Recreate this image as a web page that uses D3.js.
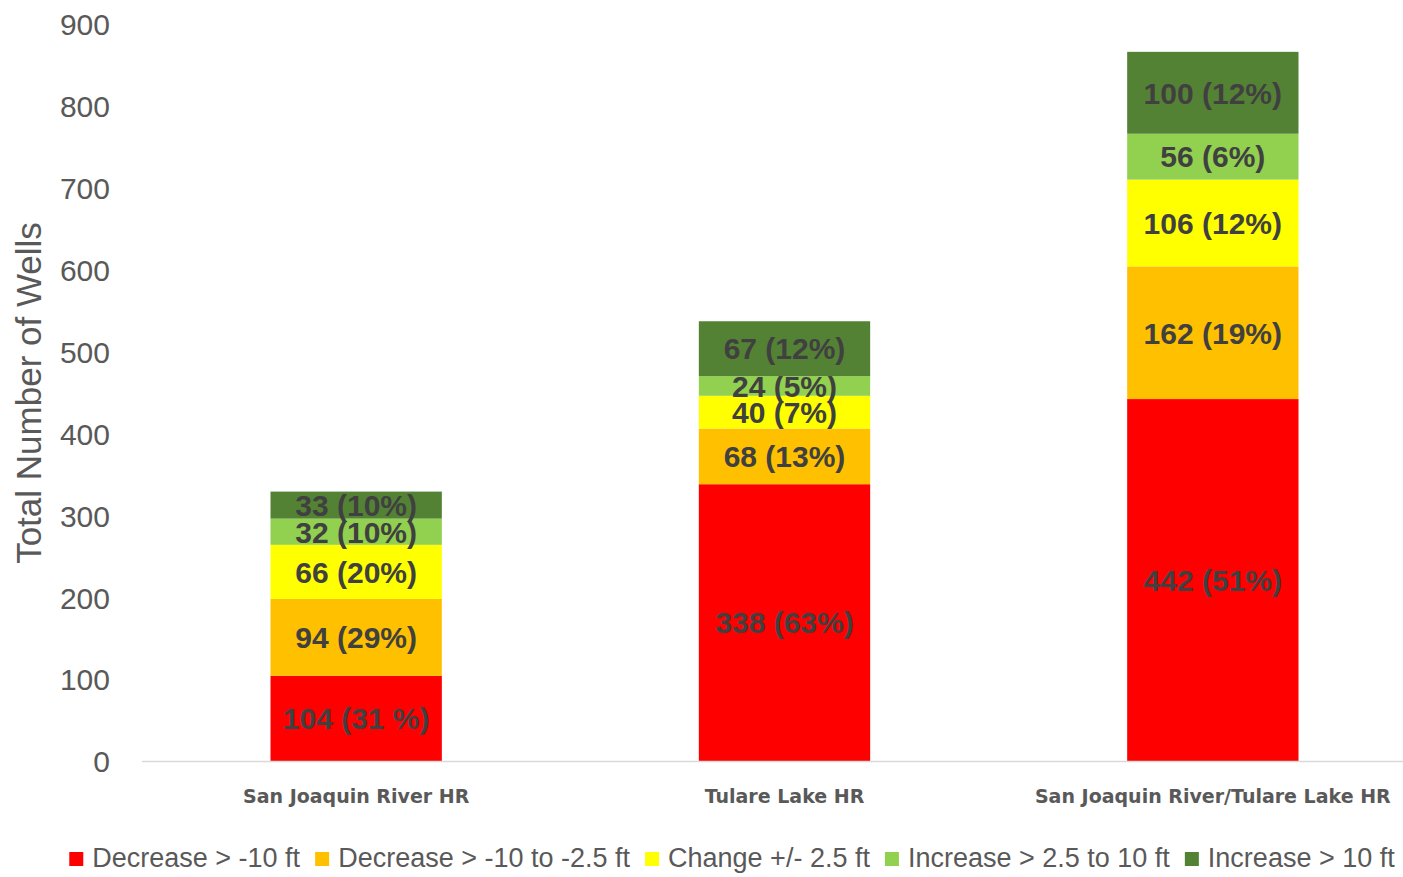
<!DOCTYPE html>
<html>
<head>
<meta charset="UTF-8">
<script src="https://d3js.org/d3.v7.min.js"></script>
<style>
  body { margin: 0; background: #fff; }
  svg text { font-family: "Liberation Sans", Arial, sans-serif; }
</style>
</head>
<body>
<div id="chart"></div>
<script>
// data
var regions = ["San Joaquin River HR", "Tulare Lake HR", "San Joaquin River/Tulare Lake HR"];
var classes = ["Decrease > -10 ft", "Decrease > -10 to -2.5 ft", "Change +/- 2.5 ft", "Increase > 2.5 to 10 ft", "Increase > 10 ft"];
var colors = ["#FF0000", "#FFC000", "#FFFF00", "#92D050", "#548235"];
// counts per class, one value per region
var decBig   = [104, 338, 442];
var decSmall = [94, 68, 162];
var noChange = [66, 40, 106];
var incSmall = [32, 24, 56];
var incBig   = [33, 67, 100];
var pctLabels = [
  ["31 %", "63%", "51%"],
  ["29%", "13%", "19%"],
  ["20%", "7%", "12%"],
  ["10%", "5%", "6%"],
  ["10%", "12%", "12%"]
];
var yTicks = [0, 100, 200, 300, 400, 500, 600, 700, 800, 900];

var width = 1403, height = 877;
var svg = d3.select("#chart").append("svg")
  .attr("width", width).attr("height", height);

var series = [decBig, decSmall, noChange, incSmall, incBig];
var rows = regions.map(function (r, i) {
  var o = { region: r };
  classes.forEach(function (c, k) { o[c] = series[k][i]; });
  return o;
});
var stacked = d3.stack().keys(classes)(rows);

var x = d3.scaleBand().domain(regions).range([142, 1427])
  .paddingInner(0.6).paddingOuter(0.3);
var y = d3.scaleLinear().domain([0, 900]).range([761, 24]);

// y tick labels (no axis line)
var yAxis = svg.append("g").attr("transform", "translate(110,0)")
  .call(d3.axisLeft(y).tickValues(yTicks).tickSize(0).tickPadding(0));
yAxis.select(".domain").remove();
yAxis.selectAll("text")
  .attr("fill", "#595959")
  .style("font-size", "30px")
  .attr("dy", "0.36em");

// y title
svg.append("text")
  .attr("transform", "translate(41,393) rotate(-90)")
  .attr("text-anchor", "middle")
  .attr("fill", "#595959")
  .style("font-size", "35px")
  .text("Total Number of Wells");

// bars
var layer = svg.selectAll("g.layer").data(stacked).enter().append("g")
  .attr("class", "layer")
  .attr("fill", function (d, k) { return colors[k]; });

layer.selectAll("rect").data(function (d) { return d; }).enter().append("rect")
  .attr("x", function (d) { return x(d.data.region); })
  .attr("width", x.bandwidth())
  .attr("y", function (d) { return y(d[1]); })
  .attr("height", function (d) { return y(d[0]) - y(d[1]); });

// data labels
layer.each(function (s, k) {
  d3.select(this).selectAll("text.lbl").data(s).enter().append("text")
    .attr("class", "lbl")
    .attr("x", function (d) { return x(d.data.region) + x.bandwidth() / 2; })
    .attr("y", function (d) { return (y(d[0]) + y(d[1])) / 2; })
    .attr("dy", "0.36em")
    .attr("text-anchor", "middle")
    .attr("fill", "#404040")
    .style("font-size", "30px")
    .style("font-weight", "bold")
    .text(function (d, i) { return series[k][i] + " (" + pctLabels[k][i] + ")"; });
});

// x axis line + category labels
svg.append("line")
  .attr("x1", 142).attr("x2", width)
  .attr("y1", y(0) + 0.5).attr("y2", y(0) + 0.5)
  .attr("stroke", "#d9d9d9").attr("stroke-width", 1.5);

svg.selectAll("text.cat").data(regions).enter().append("text")
  .attr("class", "cat")
  .attr("x", function (d) { return x(d) + x.bandwidth() / 2; })
  .attr("y", 803)
  .attr("text-anchor", "middle")
  .attr("fill", "#595959")
  .style("font-family", "'DejaVu Sans', Verdana, sans-serif")
  .style("font-size", "19px")
  .style("font-weight", "bold")
  .text(function (d) { return d; });

// legend
var legend = svg.append("g");
var items = legend.selectAll("g").data(classes).enter().append("g");
items.append("rect")
  .attr("width", 14).attr("height", 14).attr("y", -12)
  .attr("fill", function (d, k) { return colors[k]; });
items.append("text")
  .attr("x", 23)
  .attr("fill", "#595959")
  .style("font-size", "27px")
  .attr("dy", "0.3em")
  .attr("y", -5)
  .text(function (d) { return d; });

var pos = 0;
items.each(function () {
  var g = d3.select(this);
  g.attr("transform", "translate(" + pos + ",0)");
  pos += 23 + g.select("text").node().getComputedTextLength() + 15;
});
pos -= 15;
legend.attr("transform", "translate(" + (732 - pos / 2) + ",864)");
</script>
</body>
</html>
